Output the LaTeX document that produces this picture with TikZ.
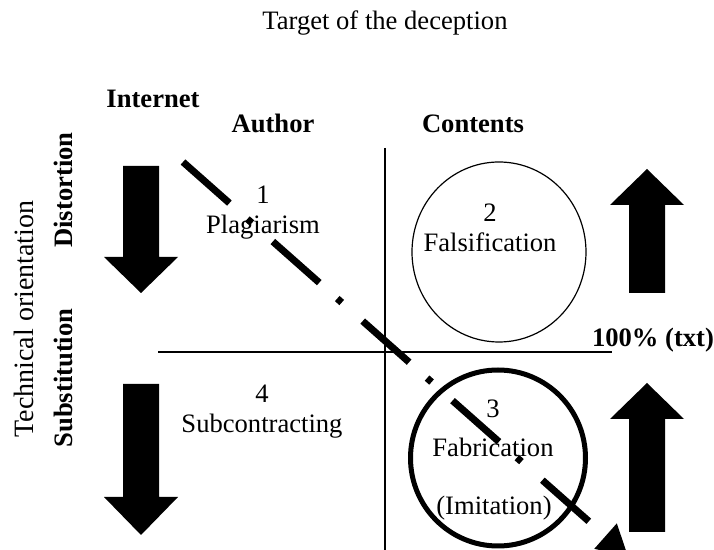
\documentclass[tikz,border=0pt]{standalone}
\usepackage{fontspec}
\setmainfont{Liberation Serif}
\usetikzlibrary{arrows.meta}
\begin{document}
\begin{tikzpicture}[x=.5pt,y=-.5pt,font=\fontsize{13.3}{16}\selectfont,
	lbl/.style={anchor=base,inner sep=0pt},
	bold/.style={lbl,font=\fontsize{13.3}{16}\selectfont\bfseries},
	axis/.style={line width=.7pt},
	blockarrow/.style={fill=black,draw=none},
	dashdot line/.style={line width=3.5pt,dash pattern=on 31pt off 12pt on 3pt off 14pt,-{Triangle[length=15pt,width=16pt]}}]
	\useasboundingbox (0,0) rectangle (714,550);
	\path
	(385,148) coordinate (T) (385,550) coordinate (B)
	(158,352) coordinate (L) (612,352) coordinate (R)
	(183,162) coordinate (S) (628,556) coordinate (E)
	;
	\draw[line width=.6pt] (499,252) ellipse [x radius=87,y radius=90];
	\draw[line width=2.5pt] (498,458) ellipse [x radius=87.5,y radius=88];
	\draw[axis] (T)--(B) (L)--(R);
	\foreach \cx/\ya/\yb/\yc in {141/166/257/293,141/384/497/535,647/293/205/169,647/532/419/383}
	\fill[blockarrow] (\cx-18,\ya)--(\cx-18,\yb)--(\cx-37,\yb)--(\cx,\yc)--(\cx+37,\yb)--(\cx+18,\yb)--(\cx+18,\ya)--cycle;
	\node[lbl] (title) at (385,30) {Target of the deception};
	\node[bold] (internet) at (153,108) {Internet};
	\node[bold] (author) at (273,133) {Author};
	\node[bold] (contents) at (473,133) {Contents};
	\node[bold] (percent) at (653,347) {100\% (txt)};
	\node[lbl,rotate=90,font=\fontsize{14}{16}\selectfont] (techori) at (33,319) {Technical orientation};
	\node[bold,rotate=90] (distort) at (72,190) {Distortion};
	\node[bold,rotate=90] (subst) at (72,378) {Substitution};
	\foreach \n/\x/\y/\t in {n1/263/204/1,plag/263/234/Plagiarism,n2/490/222/2,falsif/490/252/Falsification,
		n4/262/403/4,subcon/262/433/Subcontracting,n3/493/418/3,fabric/493/457/Fabrication,imit/494/515/(Imitation)}
	\node[lbl] (\n) at (\x,\y) {\t};
	\draw[dashdot line] (S)--(E);
\end{tikzpicture}
\end{document}
